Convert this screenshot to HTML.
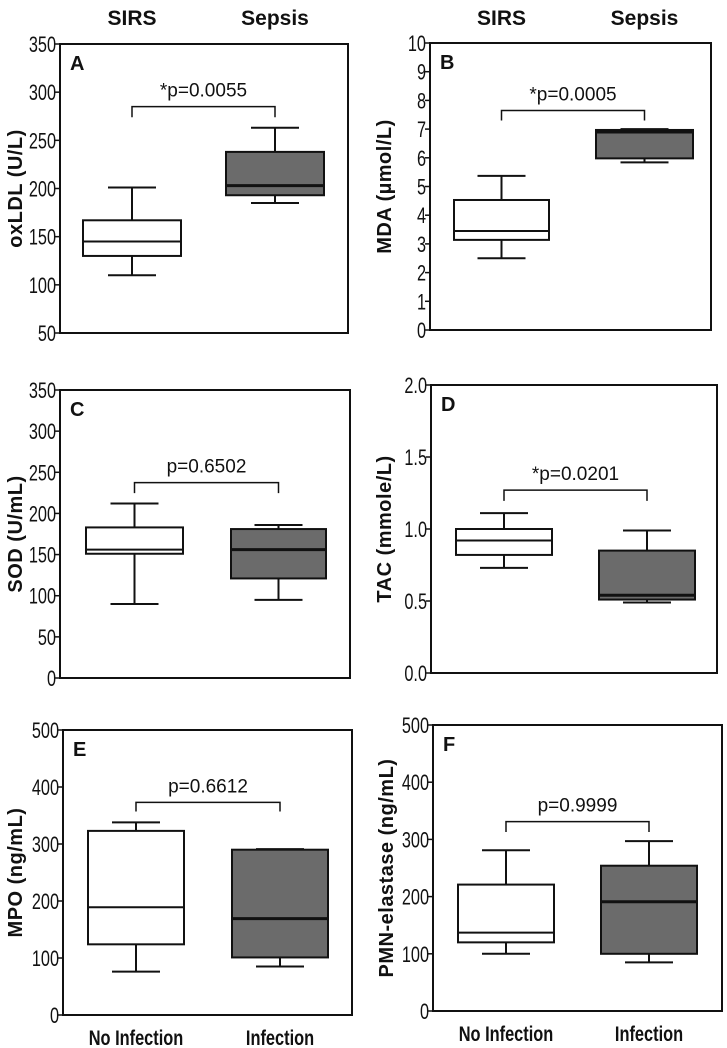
<!DOCTYPE html>
<html><head><meta charset="utf-8">
<style>
html,body{margin:0;padding:0;background:#fff;}
svg{display:block;font-family:"Liberation Sans",Arial,sans-serif;}
</style></head>
<body>
<svg id="fig" width="727" height="1048" viewBox="0 0 727 1048"></svg>
<script>
const panelLetters = ["A","B","C","D","E","F"];
const yTitles = ["oxLDL (U/L)","MDA (µmol/L)","SOD (U/mL)","TAC (mmole/L)","MPO (ng/mL)","PMN-elastase (ng/mL)"];
const yTickLabels = [
 ["50","100","150","200","250","300","350"],
 ["0","1","2","3","4","5","6","7","8","9","10"],
 ["0","50","100","150","200","250","300","350"],
 ["0.0","0.5","1.0","1.5","2.0"],
 ["0","100","200","300","400","500"],
 ["0","100","200","300","400","500"]
];
const yTickValues = [
 [50,100,150,200,250,300,350],
 [0,1,2,3,4,5,6,7,8,9,10],
 [0,50,100,150,200,250,300,350],
 [0,0.5,1,1.5,2],
 [0,100,200,300,400,500],
 [0,100,200,300,400,500]
];
const yDomain = [[50,350],[0,10],[0,350],[0,2],[0,500],[0,500]];
// [min, q1, median, q3, max]
const group1Stats = [
 [110,130,145,167,201],
 [2.5,3.14,3.45,4.53,5.37],
 [90,151,156,183,212],
 [0.73,0.82,0.92,1.0,1.11],
 [76,124,189,323,338],
 [100,120,137,221,281]
];
const group2Stats = [
 [185,193,203,238,263],
 [5.84,5.98,6.9,6.97,7.0],
 [95,121,156,181,186],
 [0.49,0.51,0.54,0.85,0.99],
 [85,101,169,290,291],
 [85,100,191,254,297]
];
const bracketTop = [285,7.65,237.5,1.27,373,331];
const bracketBottom = [274,7.3,224.6,1.195,357,313];
const pLabels = ["*p=0.0055","*p=0.0005","p=0.6502","*p=0.0201","p=0.6612","p=0.9999"];
const topCategories = ["SIRS","Sepsis"];
const bottomCategories = ["No Infection","Infection"];

// layout (pixels)
const frames = [
 {l:60,r:348,t:44,b:333,b1:[83,181],b2:[226,324],tx:22},
 {l:430,r:711,t:43,b:330,b1:[454,549],b2:[596,693],tx:391},
 {l:60,r:350,t:390,b:678,b1:[86,183],b2:[231,326],tx:22},
 {l:431,r:717,t:385,b:673,b1:[456,552],b2:[599,695],tx:391},
 {l:63,r:352,t:730,b:1015,b1:[88,184],b2:[232,328],tx:22},
 {l:433,r:722,t:725,b:1011,b1:[458,554],b2:[601,697],tx:393}
];
const NS="http://www.w3.org/2000/svg";
const svg=document.getElementById('fig');
function mk(tag,attrs,parent){const e=document.createElementNS(NS,tag);for(const k in attrs)e.setAttribute(k,attrs[k]);(parent||svg).appendChild(e);return e;}

frames.forEach((f,i)=>{
 const g=mk('g',{});
 
 
 const [d0,d1]=yDomain[i];
 const y=v=>f.b-(v-d0)/(d1-d0)*(f.b-f.t);
 const fr=mk('rect',{x:f.l,y:f.t,width:f.r-f.l,height:f.b-f.t,fill:'none',stroke:'#111','stroke-width':2},g);
 
 
 yTickValues[i].forEach((v,k)=>{
  const yy=y(v);
  const tk=mk('line',{x1:f.l-5,x2:f.l,y1:yy,y2:yy,stroke:'#111','stroke-width':1.5},g);
  
  
  const t=mk('text',{x:0,y:0,'font-size':22,'text-anchor':'end',fill:'#111',transform:`translate(${f.l-4},${yy+8}) scale(0.74,1)`},g);
  t.textContent=yTickLabels[i][k];
  
  
 });
 const cy=(f.t+f.b)/2;
 const yt=mk('text',{x:0,y:0,'font-size':20,'font-weight':'bold','text-anchor':'middle',fill:'#111','letter-spacing':'0.5',transform:`translate(${f.tx},${cy}) rotate(-90)`},g);
 yt.textContent=yTitles[i];
 
 
 const pl=mk('text',{x:f.l+10,y:f.t+26,'font-size':20,'font-weight':'bold',fill:'#111'},g);
 pl.textContent=panelLetters[i];
 
 
 [[f.b1,group1Stats[i],'#fff','box-group1'],[f.b2,group2Stats[i],'#6b6b6b','box-group2']].forEach(([bx,s,fill,nm])=>{
  const cx=(bx[0]+bx[1])/2, hw=24;
  const wg=mk('g',{},g);
  
  
  mk('line',{x1:cx,x2:cx,y1:y(s[0]),y2:y(s[1]),stroke:'#111','stroke-width':2},wg);
  mk('line',{x1:cx,x2:cx,y1:y(s[3]),y2:y(s[4]),stroke:'#111','stroke-width':2},wg);
  mk('line',{x1:cx-hw,x2:cx+hw,y1:y(s[0]),y2:y(s[0]),stroke:'#111','stroke-width':2},wg);
  mk('line',{x1:cx-hw,x2:cx+hw,y1:y(s[4]),y2:y(s[4]),stroke:'#111','stroke-width':2},wg);
  mk('rect',{x:bx[0],y:y(s[3]),width:bx[1]-bx[0],height:y(s[1])-y(s[3]),fill:fill,stroke:'#111','stroke-width':2},wg);
  mk('line',{x1:bx[0],x2:bx[1],y1:y(s[2]),y2:y(s[2]),stroke:'#111','stroke-width':fill=='#fff'?2:3},wg);
 });
 const c1=(f.b1[0]+f.b1[1])/2,c2=(f.b2[0]+f.b2[1])/2;
 const br=mk('path',{d:`M${c1},${y(bracketBottom[i])}V${y(bracketTop[i])}H${c2}V${y(bracketBottom[i])}`,fill:'none',stroke:'#111','stroke-width':1.5},g);
 
 
 const pt=mk('text',{x:(c1+c2)/2,y:y(bracketTop[i])-10,'font-size':19,'text-anchor':'middle',fill:'#111'},g);
 pt.textContent=pLabels[i];
 
 
 if(i<2){
  [c1,c2].forEach((cx,k)=>{
   const t=mk('text',{x:cx,y:25,'font-size':21,'font-weight':'bold','text-anchor':'middle',fill:'#111'},g);
   t.textContent=topCategories[k];
   
   
  });
 }
 if(i>=4){
  [c1,c2].forEach((cx,k)=>{
   const t=mk('text',{x:0,y:0,'font-size':21,'font-weight':'bold','text-anchor':'middle',fill:'#111',transform:`translate(${cx},${f.b+30}) scale(0.78,1)`},g);
   t.textContent=bottomCategories[k];
   
   
  });
 }
});
</script>
</body></html>
